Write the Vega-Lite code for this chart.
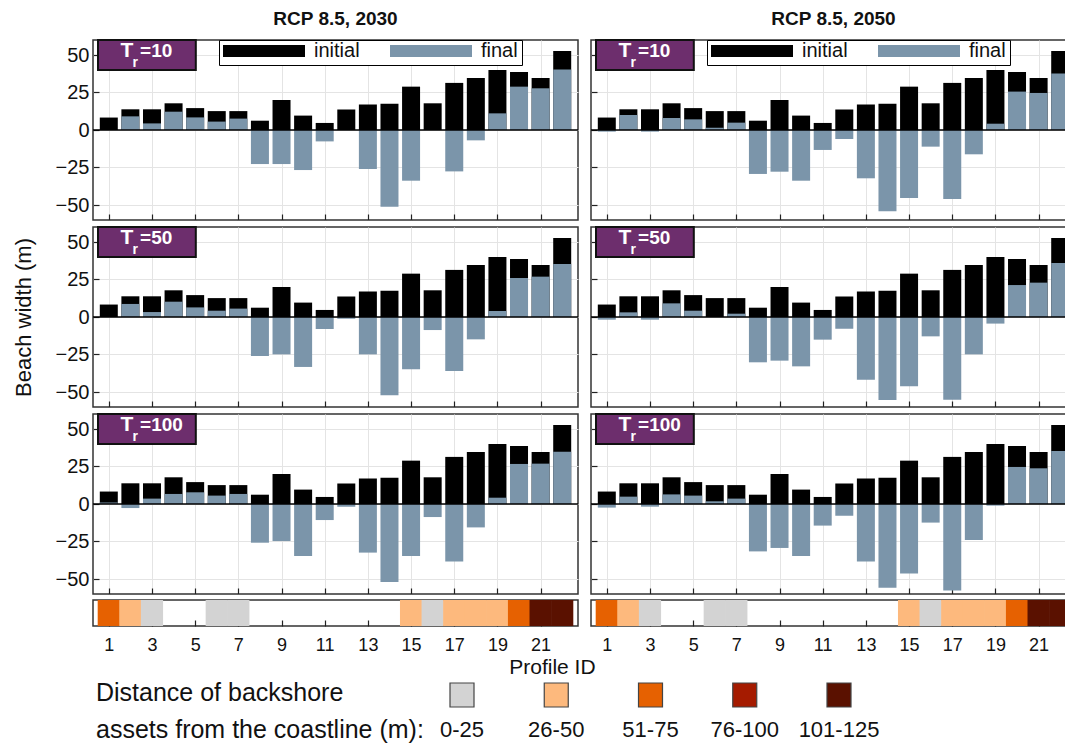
{
  "$schema": "https://vega.github.io/schema/vega-lite/v6.json",
  "background": "white",
  "padding": {"left": 11, "top": 9, "right": 0, "bottom": 0},
  "config": {
    "font": "Liberation Sans",
    "view": {"stroke": "#333333", "strokeWidth": 1.5},
    "axis": {"domain": false, "grid": true, "gridColor": "#e4e4e4", "tickColor": "#222222", "tickSize": -6, "tickWidth": 1.2, "labelFontSize": 18, "labelColor": "#111111", "labelFont": "Liberation Sans", "labelPadding": 10, "titleFont": "Liberation Sans", "titleColor": "#111111"},
    "title": {"font": "Liberation Sans", "color": "#111111"}
  },
  "datasets": {
    "beach": [
      {"profile":1,"initial":8.3,"f2030_10":0,"f2050_10":-1.1,"f2030_50":0,"f2050_50":-1.8,"f2030_100":1,"f2050_100":-2.4},
      {"profile":2,"initial":13.8,"f2030_10":9.1,"f2050_10":10,"f2030_50":8.7,"f2050_50":3.1,"f2030_100":-2.7,"f2050_100":4.9},
      {"profile":3,"initial":13.8,"f2030_10":4.4,"f2050_10":-1.1,"f2030_50":3.3,"f2050_50":-1.8,"f2030_100":3.6,"f2050_100":-1.8},
      {"profile":4,"initial":17.8,"f2030_10":12.2,"f2050_10":8,"f2030_50":10.2,"f2050_50":9.1,"f2030_100":6.7,"f2050_100":6.4},
      {"profile":5,"initial":14.6,"f2030_10":8.4,"f2050_10":7.1,"f2030_50":6.4,"f2050_50":4.2,"f2030_100":7.8,"f2050_100":5.6},
      {"profile":6,"initial":12.6,"f2030_10":5.6,"f2050_10":1.5,"f2030_50":4.2,"f2050_50":0,"f2030_100":5.6,"f2050_100":1.8},
      {"profile":7,"initial":12.6,"f2030_10":7.6,"f2050_10":4.9,"f2030_50":5.6,"f2050_50":2.2,"f2030_100":6.7,"f2050_100":3.6},
      {"profile":8,"initial":6.2,"f2030_10":-22.7,"f2050_10":-29.3,"f2030_50":-26,"f2050_50":-30.2,"f2030_100":-25.8,"f2050_100":-31.6},
      {"profile":9,"initial":20,"f2030_10":-22.7,"f2050_10":-27.8,"f2030_50":-24.9,"f2050_50":-29.1,"f2030_100":-24.7,"f2050_100":-29.3},
      {"profile":10,"initial":9.6,"f2030_10":-26.7,"f2050_10":-33.8,"f2030_50":-33.3,"f2050_50":-32.9,"f2030_100":-34.7,"f2050_100":-34.7},
      {"profile":11,"initial":4.7,"f2030_10":-7.6,"f2050_10":-13.3,"f2030_50":-8,"f2050_50":-15.1,"f2030_100":-10.7,"f2050_100":-14.4},
      {"profile":12,"initial":13.6,"f2030_10":0,"f2050_10":-6,"f2030_50":-1.1,"f2050_50":-7.8,"f2030_100":-1.8,"f2050_100":-7.8},
      {"profile":13,"initial":17,"f2030_10":-26,"f2050_10":-32.2,"f2030_50":-24.9,"f2050_50":-41.8,"f2030_100":-32.4,"f2050_100":-38.4},
      {"profile":14,"initial":17.5,"f2030_10":-51.1,"f2050_10":-54.2,"f2030_50":-52.2,"f2050_50":-55.3,"f2030_100":-52,"f2050_100":-55.8},
      {"profile":15,"initial":28.9,"f2030_10":-33.8,"f2050_10":-45.3,"f2030_50":-34.9,"f2050_50":-46.2,"f2030_100":-34.7,"f2050_100":-46.4},
      {"profile":16,"initial":17.8,"f2030_10":0,"f2050_10":-11.1,"f2030_50":-8.7,"f2050_50":-12.9,"f2030_100":-8.7,"f2050_100":-12.4},
      {"profile":17,"initial":31.4,"f2030_10":-27.6,"f2050_10":-46,"f2030_50":-36,"f2050_50":-55.1,"f2030_100":-38.4,"f2050_100":-57.6},
      {"profile":18,"initial":34.7,"f2030_10":-6.9,"f2050_10":-16.2,"f2030_50":-14.9,"f2050_50":-24.9,"f2030_100":-15.6,"f2050_100":-24},
      {"profile":19,"initial":40,"f2030_10":11.1,"f2050_10":4.2,"f2030_50":4,"f2050_50":-4.4,"f2030_100":4.2,"f2050_100":-1.1},
      {"profile":20,"initial":38.7,"f2030_10":28.9,"f2050_10":25.6,"f2030_50":26,"f2050_50":21.3,"f2030_100":26.7,"f2050_100":24.7},
      {"profile":21,"initial":34.7,"f2030_10":27.8,"f2050_10":24.7,"f2030_50":26.9,"f2050_50":22.9,"f2030_100":26.9,"f2050_100":23.8},
      {"profile":22,"initial":52.6,"f2030_10":40.4,"f2050_10":37.6,"f2030_50":35.3,"f2050_50":36,"f2030_100":34.9,"f2050_100":35.3}
    ],
    "dist": [
      {"profile":1,"dist":"51-75"},{"profile":2,"dist":"26-50"},{"profile":3,"dist":"0-25"},
      {"profile":6,"dist":"0-25"},{"profile":7,"dist":"0-25"},{"profile":15,"dist":"26-50"},
      {"profile":16,"dist":"0-25"},{"profile":17,"dist":"26-50"},{"profile":18,"dist":"26-50"},
      {"profile":19,"dist":"26-50"},{"profile":20,"dist":"51-75"},{"profile":21,"dist":"101-125"},
      {"profile":22,"dist":"101-125"}
    ],
    "cats": [{"dist":"0-25"},{"dist":"26-50"},{"dist":"51-75"},{"dist":"76-100"},{"dist":"101-125"}],
    "lines": [{"line":"Distance of backshore"},{"line":"assets from the coastline (m):"}],
    "one": [{"k":1}]
  },
  "spacing": 2,
  "resolve": {"scale": {"color": "independent"}, "legend": {"color": "independent"}},
  "vconcat": [
    {
      "columns": 2,
      "spacing": {"row": 3, "column": 9},
      "align": {"row": "each", "column": "all"},
      "title": {"text": "Profile ID", "orient": "bottom", "anchor": "middle", "fontSize": 21, "fontWeight": "normal", "offset": 2, "dx": 8},
      "resolve": {"scale": {"color": "independent", "x": "independent", "y": "independent"}, "legend": {"color": "independent"}},
      "concat": [
        {
          "width": 485, "height": 180,
          "title": {"text": "RCP 8.5, 2030", "fontSize": 19, "fontWeight": "bold", "offset": 10},
          "data": {"name": "beach"},
          "layer": [
            {"mark": {"type": "bar", "width": 18, "orient": "vertical"},
             "encoding": {
               "x": {"field": "profile", "type": "quantitative", "scale": {"domain": [0.5, 22.5], "nice": false, "zero": false}, "axis": {"values": [1,3,5,7,9,11,13,15,17,19,21], "labels": false, "title": null}},
               "y": {"field": "initial", "type": "quantitative", "scale": {"domain": [-60, 60], "nice": false}, "axis": {"values": [-50,-25,0,25,50], "title": null, "labelFontSize": 20}},
               "color": {"datum": "initial", "scale": {"domain": ["initial", "final"], "range": ["#000000", "#7B95AA"]},
                 "legend": {"orient": "none", "legendX": 126, "legendY": 0, "direction": "horizontal", "title": null, "symbolType": "M-1,-0.146H1V0.146H-1Z", "symbolSize": 6724, "clipHeight": 14, "fillColor": "white", "strokeColor": "black", "padding": 4, "labelFontSize": 20, "labelFont": "Liberation Sans", "labelColor": "#111111", "labelOffset": 9, "columnPadding": 30, "symbolStrokeWidth": 0, "symbolOpacity": 1}}
             }},
            {"mark": {"type": "bar", "width": 18, "orient": "vertical"},
             "encoding": {"x": {"field": "profile", "type": "quantitative"}, "y": {"field": "f2030_10", "type": "quantitative"}, "color": {"datum": "final"}}},
            {"data": {"name": "one"}, "mark": {"type": "rule", "color": "#000000", "strokeWidth": 1.5}, "encoding": {"y": {"datum": 0}}},
            {"data": {"name": "one"}, "mark": {"type": "rect", "fill": "#6D2E6D", "stroke": "#111111", "strokeWidth": 2}, "encoding": {"x": {"datum": 0.5}, "x2": {"datum": 5.03}, "y": {"datum": 60}, "y2": {"datum": 40}}},
            {"data": {"name": "one"}, "mark": {"type": "text", "text": "T", "fontSize": 21, "fontWeight": "bold", "color": "white", "align": "center", "baseline": "middle"}, "encoding": {"x": {"datum": 1.84}, "y": {"datum": 52.5}}},
            {"data": {"name": "one"}, "mark": {"type": "text", "text": "r", "fontSize": 14, "fontWeight": "bold", "color": "white", "align": "center", "baseline": "middle"}, "encoding": {"x": {"datum": 2.22}, "y": {"datum": 44.5}}},
            {"data": {"name": "one"}, "mark": {"type": "text", "text": "=10", "fontSize": 19, "fontWeight": "bold", "color": "white", "align": "left", "baseline": "middle"}, "encoding": {"x": {"datum": 2.45}, "y": {"datum": 52.5}}}
          ]
        },
        {
          "width": 485, "height": 180,
          "title": {"text": "RCP 8.5, 2050", "fontSize": 19, "fontWeight": "bold", "offset": 10},
          "data": {"name": "beach"},
          "layer": [
            {"mark": {"type": "bar", "width": 18, "orient": "vertical"},
             "encoding": {
               "x": {"field": "profile", "type": "quantitative", "scale": {"domain": [0.5, 22.5], "nice": false, "zero": false}, "axis": {"values": [1,3,5,7,9,11,13,15,17,19,21], "labels": false, "title": null}},
               "y": {"field": "initial", "type": "quantitative", "scale": {"domain": [-60, 60], "nice": false}, "axis": {"values": [-50,-25,0,25,50], "labels": false, "title": null}},
               "color": {"datum": "initial", "scale": {"domain": ["initial", "final"], "range": ["#000000", "#7B95AA"]},
                 "legend": {"orient": "none", "legendX": 116, "legendY": 0, "direction": "horizontal", "title": null, "symbolType": "M-1,-0.146H1V0.146H-1Z", "symbolSize": 6724, "clipHeight": 14, "fillColor": "white", "strokeColor": "black", "padding": 4, "labelFontSize": 20, "labelFont": "Liberation Sans", "labelColor": "#111111", "labelOffset": 9, "columnPadding": 30, "symbolStrokeWidth": 0, "symbolOpacity": 1}}
             }},
            {"mark": {"type": "bar", "width": 18, "orient": "vertical"},
             "encoding": {"x": {"field": "profile", "type": "quantitative"}, "y": {"field": "f2050_10", "type": "quantitative"}, "color": {"datum": "final"}}},
            {"data": {"name": "one"}, "mark": {"type": "rule", "color": "#000000", "strokeWidth": 1.5}, "encoding": {"y": {"datum": 0}}},
            {"data": {"name": "one"}, "mark": {"type": "rect", "fill": "#6D2E6D", "stroke": "#111111", "strokeWidth": 2}, "encoding": {"x": {"datum": 0.5}, "x2": {"datum": 5.03}, "y": {"datum": 60}, "y2": {"datum": 40}}},
            {"data": {"name": "one"}, "mark": {"type": "text", "text": "T", "fontSize": 21, "fontWeight": "bold", "color": "white", "align": "center", "baseline": "middle"}, "encoding": {"x": {"datum": 1.84}, "y": {"datum": 52.5}}},
            {"data": {"name": "one"}, "mark": {"type": "text", "text": "r", "fontSize": 14, "fontWeight": "bold", "color": "white", "align": "center", "baseline": "middle"}, "encoding": {"x": {"datum": 2.22}, "y": {"datum": 44.5}}},
            {"data": {"name": "one"}, "mark": {"type": "text", "text": "=10", "fontSize": 19, "fontWeight": "bold", "color": "white", "align": "left", "baseline": "middle"}, "encoding": {"x": {"datum": 2.45}, "y": {"datum": 52.5}}}
          ]
        },
        {
          "width": 485, "height": 180,
          "data": {"name": "beach"},
          "layer": [
            {"mark": {"type": "bar", "width": 18, "orient": "vertical", "color": "#000000"},
             "encoding": {
               "x": {"field": "profile", "type": "quantitative", "scale": {"domain": [0.5, 22.5], "nice": false, "zero": false}, "axis": {"values": [1,3,5,7,9,11,13,15,17,19,21], "labels": false, "title": null}},
               "y": {"field": "initial", "type": "quantitative", "scale": {"domain": [-60, 60], "nice": false}, "axis": {"values": [-50,-25,0,25,50], "labelFontSize": 20, "title": "Beach width (m)", "titleFontSize": 22, "titleFontWeight": "normal", "titlePadding": 20}}
             }},
            {"mark": {"type": "bar", "width": 18, "orient": "vertical", "color": "#7B95AA"},
             "encoding": {"x": {"field": "profile", "type": "quantitative"}, "y": {"field": "f2030_50", "type": "quantitative"}}},
            {"data": {"name": "one"}, "mark": {"type": "rule", "color": "#000000", "strokeWidth": 1.5}, "encoding": {"y": {"datum": 0}}},
            {"data": {"name": "one"}, "mark": {"type": "rect", "fill": "#6D2E6D", "stroke": "#111111", "strokeWidth": 2}, "encoding": {"x": {"datum": 0.5}, "x2": {"datum": 5.03}, "y": {"datum": 60}, "y2": {"datum": 40}}},
            {"data": {"name": "one"}, "mark": {"type": "text", "text": "T", "fontSize": 21, "fontWeight": "bold", "color": "white", "align": "center", "baseline": "middle"}, "encoding": {"x": {"datum": 1.84}, "y": {"datum": 52.5}}},
            {"data": {"name": "one"}, "mark": {"type": "text", "text": "r", "fontSize": 14, "fontWeight": "bold", "color": "white", "align": "center", "baseline": "middle"}, "encoding": {"x": {"datum": 2.22}, "y": {"datum": 44.5}}},
            {"data": {"name": "one"}, "mark": {"type": "text", "text": "=50", "fontSize": 19, "fontWeight": "bold", "color": "white", "align": "left", "baseline": "middle"}, "encoding": {"x": {"datum": 2.45}, "y": {"datum": 52.5}}}
          ]
        },
        {
          "width": 485, "height": 180,
          "data": {"name": "beach"},
          "layer": [
            {"mark": {"type": "bar", "width": 18, "orient": "vertical", "color": "#000000"},
             "encoding": {
               "x": {"field": "profile", "type": "quantitative", "scale": {"domain": [0.5, 22.5], "nice": false, "zero": false}, "axis": {"values": [1,3,5,7,9,11,13,15,17,19,21], "labels": false, "title": null}},
               "y": {"field": "initial", "type": "quantitative", "scale": {"domain": [-60, 60], "nice": false}, "axis": {"values": [-50,-25,0,25,50], "labels": false, "title": null}}
             }},
            {"mark": {"type": "bar", "width": 18, "orient": "vertical", "color": "#7B95AA"},
             "encoding": {"x": {"field": "profile", "type": "quantitative"}, "y": {"field": "f2050_50", "type": "quantitative"}}},
            {"data": {"name": "one"}, "mark": {"type": "rule", "color": "#000000", "strokeWidth": 1.5}, "encoding": {"y": {"datum": 0}}},
            {"data": {"name": "one"}, "mark": {"type": "rect", "fill": "#6D2E6D", "stroke": "#111111", "strokeWidth": 2}, "encoding": {"x": {"datum": 0.5}, "x2": {"datum": 5.03}, "y": {"datum": 60}, "y2": {"datum": 40}}},
            {"data": {"name": "one"}, "mark": {"type": "text", "text": "T", "fontSize": 21, "fontWeight": "bold", "color": "white", "align": "center", "baseline": "middle"}, "encoding": {"x": {"datum": 1.84}, "y": {"datum": 52.5}}},
            {"data": {"name": "one"}, "mark": {"type": "text", "text": "r", "fontSize": 14, "fontWeight": "bold", "color": "white", "align": "center", "baseline": "middle"}, "encoding": {"x": {"datum": 2.22}, "y": {"datum": 44.5}}},
            {"data": {"name": "one"}, "mark": {"type": "text", "text": "=50", "fontSize": 19, "fontWeight": "bold", "color": "white", "align": "left", "baseline": "middle"}, "encoding": {"x": {"datum": 2.45}, "y": {"datum": 52.5}}}
          ]
        },
        {
          "width": 485, "height": 180,
          "data": {"name": "beach"},
          "layer": [
            {"mark": {"type": "bar", "width": 18, "orient": "vertical", "color": "#000000"},
             "encoding": {
               "x": {"field": "profile", "type": "quantitative", "scale": {"domain": [0.5, 22.5], "nice": false, "zero": false}, "axis": {"values": [1,3,5,7,9,11,13,15,17,19,21], "labels": false, "title": null}},
               "y": {"field": "initial", "type": "quantitative", "scale": {"domain": [-60, 60], "nice": false}, "axis": {"values": [-50,-25,0,25,50], "title": null, "labelFontSize": 20}}
             }},
            {"mark": {"type": "bar", "width": 18, "orient": "vertical", "color": "#7B95AA"},
             "encoding": {"x": {"field": "profile", "type": "quantitative"}, "y": {"field": "f2030_100", "type": "quantitative"}}},
            {"data": {"name": "one"}, "mark": {"type": "rule", "color": "#000000", "strokeWidth": 1.5}, "encoding": {"y": {"datum": 0}}},
            {"data": {"name": "one"}, "mark": {"type": "rect", "fill": "#6D2E6D", "stroke": "#111111", "strokeWidth": 2}, "encoding": {"x": {"datum": 0.5}, "x2": {"datum": 5.03}, "y": {"datum": 60}, "y2": {"datum": 40}}},
            {"data": {"name": "one"}, "mark": {"type": "text", "text": "T", "fontSize": 21, "fontWeight": "bold", "color": "white", "align": "center", "baseline": "middle"}, "encoding": {"x": {"datum": 1.84}, "y": {"datum": 52.5}}},
            {"data": {"name": "one"}, "mark": {"type": "text", "text": "r", "fontSize": 14, "fontWeight": "bold", "color": "white", "align": "center", "baseline": "middle"}, "encoding": {"x": {"datum": 2.22}, "y": {"datum": 44.5}}},
            {"data": {"name": "one"}, "mark": {"type": "text", "text": "=100", "fontSize": 19, "fontWeight": "bold", "color": "white", "align": "left", "baseline": "middle"}, "encoding": {"x": {"datum": 2.45}, "y": {"datum": 52.5}}}
          ]
        },
        {
          "width": 485, "height": 180,
          "data": {"name": "beach"},
          "layer": [
            {"mark": {"type": "bar", "width": 18, "orient": "vertical", "color": "#000000"},
             "encoding": {
               "x": {"field": "profile", "type": "quantitative", "scale": {"domain": [0.5, 22.5], "nice": false, "zero": false}, "axis": {"values": [1,3,5,7,9,11,13,15,17,19,21], "labels": false, "title": null}},
               "y": {"field": "initial", "type": "quantitative", "scale": {"domain": [-60, 60], "nice": false}, "axis": {"values": [-50,-25,0,25,50], "labels": false, "title": null}}
             }},
            {"mark": {"type": "bar", "width": 18, "orient": "vertical", "color": "#7B95AA"},
             "encoding": {"x": {"field": "profile", "type": "quantitative"}, "y": {"field": "f2050_100", "type": "quantitative"}}},
            {"data": {"name": "one"}, "mark": {"type": "rule", "color": "#000000", "strokeWidth": 1.5}, "encoding": {"y": {"datum": 0}}},
            {"data": {"name": "one"}, "mark": {"type": "rect", "fill": "#6D2E6D", "stroke": "#111111", "strokeWidth": 2}, "encoding": {"x": {"datum": 0.5}, "x2": {"datum": 5.03}, "y": {"datum": 60}, "y2": {"datum": 40}}},
            {"data": {"name": "one"}, "mark": {"type": "text", "text": "T", "fontSize": 21, "fontWeight": "bold", "color": "white", "align": "center", "baseline": "middle"}, "encoding": {"x": {"datum": 1.84}, "y": {"datum": 52.5}}},
            {"data": {"name": "one"}, "mark": {"type": "text", "text": "r", "fontSize": 14, "fontWeight": "bold", "color": "white", "align": "center", "baseline": "middle"}, "encoding": {"x": {"datum": 2.22}, "y": {"datum": 44.5}}},
            {"data": {"name": "one"}, "mark": {"type": "text", "text": "=100", "fontSize": 19, "fontWeight": "bold", "color": "white", "align": "left", "baseline": "middle"}, "encoding": {"x": {"datum": 2.45}, "y": {"datum": 52.5}}}
          ]
        },
        {
          "width": 485, "height": 26,
          "data": {"name": "dist"},
          "mark": {"type": "bar", "width": 22.2, "orient": "vertical"},
          "encoding": {
            "x": {"field": "profile", "type": "quantitative", "scale": {"domain": [0.5, 22.5], "nice": false, "zero": false}, "axis": {"values": [1,3,5,7,9,11,13,15,17,19,21], "grid": false, "title": null, "labelPadding": 16}},
            "y": {"datum": 1, "type": "quantitative", "scale": {"domain": [0, 1], "nice": false}, "axis": null},
            "y2": {"datum": 0},
            "color": {"field": "dist", "type": "nominal", "scale": {"domain": ["0-25", "26-50", "51-75", "76-100", "101-125"], "range": ["#D3D3D3", "#FDB97D", "#E66101", "#A51B00", "#5A1100"]}, "legend": null}
          }
        },
        {
          "width": 485, "height": 26,
          "data": {"name": "dist"},
          "mark": {"type": "bar", "width": 22.2, "orient": "vertical"},
          "encoding": {
            "x": {"field": "profile", "type": "quantitative", "scale": {"domain": [0.5, 22.5], "nice": false, "zero": false}, "axis": {"values": [1,3,5,7,9,11,13,15,17,19,21], "grid": false, "title": null, "labelPadding": 16}},
            "y": {"datum": 1, "type": "quantitative", "scale": {"domain": [0, 1], "nice": false}, "axis": null},
            "y2": {"datum": 0},
            "color": {"field": "dist", "type": "nominal", "scale": {"domain": ["0-25", "26-50", "51-75", "76-100", "101-125"], "range": ["#D3D3D3", "#FDB97D", "#E66101", "#A51B00", "#5A1100"]}, "legend": null}
          }
        }
      ]
    },
    {
      "spacing": 10,
      "resolve": {"scale": {"color": "independent"}},
      "hconcat": [
        {
          "width": 330, "height": 58,
          "view": {"stroke": null},
          "data": {"name": "lines"},
          "mark": {"type": "text", "align": "left", "baseline": "middle", "fontSize": 25, "font": "Liberation Sans", "color": "#111111"},
          "encoding": {
            "x": {"value": 3},
            "y": {"field": "line", "type": "nominal", "scale": {"type": "point", "padding": 0, "domain": ["Distance of backshore", "assets from the coastline (m):"], "range": [3, 40]}, "axis": null},
            "text": {"field": "line"}
          }
        },
        {
          "width": 640, "height": 58,
          "view": {"stroke": null},
          "data": {"name": "cats"},
          "layer": [
            {"mark": {"type": "square", "size": 576, "opacity": 1, "filled": true, "stroke": "#444444", "strokeWidth": 1.2},
             "encoding": {
               "x": {"field": "dist", "type": "nominal", "scale": {"type": "point", "padding": 0, "domain": ["0-25", "26-50", "51-75", "76-100", "101-125"], "range": [28, 405]}, "axis": null},
               "y": {"datum": "sw", "type": "nominal", "scale": {"type": "point", "padding": 0, "domain": ["sw", "lab"], "range": [5, 40]}, "axis": null},
               "color": {"field": "dist", "type": "nominal", "scale": {"domain": ["0-25", "26-50", "51-75", "76-100", "101-125"], "range": ["#D3D3D3", "#FDB97D", "#E66101", "#A51B00", "#5A1100"]}, "legend": null}
             }},
            {"mark": {"type": "text", "fontSize": 22, "font": "Liberation Sans", "color": "#111111", "baseline": "middle"},
             "encoding": {
               "x": {"field": "dist", "type": "nominal"},
               "y": {"datum": "lab", "type": "nominal"},
               "text": {"field": "dist"}
             }}
          ]
        }
      ]
    }
  ]
}
